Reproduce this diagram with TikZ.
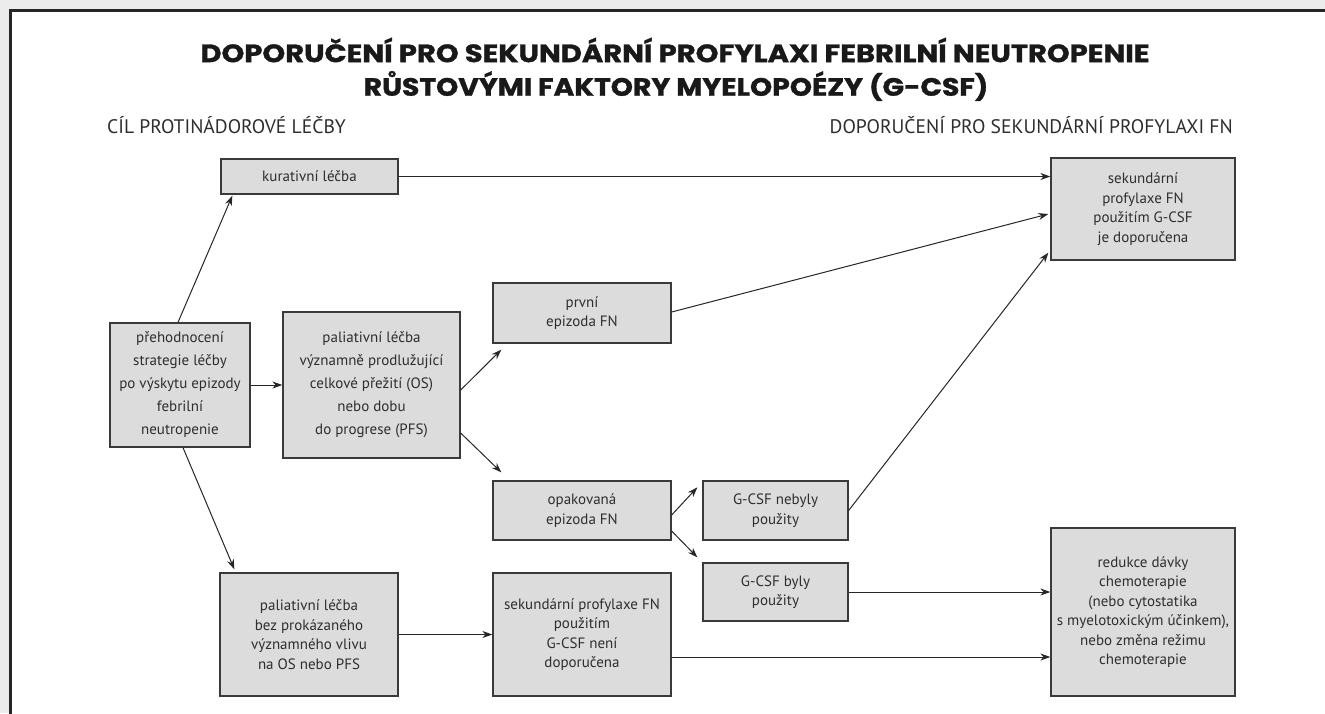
\documentclass[tikz,border=0pt]{standalone}
\usepackage{fontspec}
\setmainfont{PT Sans}
\newfontfamily\titlefont{Poppins}[BoldFeatures={FakeBold=1.2}]
\usetikzlibrary{arrows.meta,calc}
\definecolor{bgc}{HTML}{ECECEC}
\definecolor{boxfill}{HTML}{DCDCDC}
\definecolor{boxline}{HTML}{3A3A3A}
\definecolor{txt}{HTML}{2E2E2E}
\begin{document}
\begin{tikzpicture}[x=1pt,y=-1pt,
  box/.style={draw=boxline, line width=1.3pt, fill=boxfill, inner sep=0pt, align=center, text=txt, font=\fontsize{15}{19.5}\selectfont},
  widebox/.style={box, font=\fontsize{15}{23}\selectfont},
  arr/.style={line width=1pt, draw=black!85, -{Stealth[length=10pt,width=7pt]}},
  head/.style={inner sep=0pt, text=txt, font=\fontsize{19.6}{22}\selectfont},
  ttl/.style={inner sep=0pt, text=black!90, font=\titlefont\bfseries\fontsize{25}{30}\selectfont}]
\useasboundingbox (0,0) rectangle (1325,713);
\clip (0,0) rectangle (1325,713);
\fill[bgc] (0,0) rectangle (1325,713);
\draw[line width=3pt, draw=black!85, fill=white] (10.5,10.5) rectangle (1340,730);

\node[ttl] (t1) at (675,50) {\scalebox{1.16}[1]{DOPORUČENÍ PRO SEKUNDÁRNÍ PROFYLAXI FEBRILNÍ NEUTROPENIE}};
\node[ttl] (t2) at (676,86) {\scalebox{1.13}[1]{RŮSTOVÝMI FAKTORY MYELOPOÉZY (G-CSF)}};
\node[head, anchor=base west] (h1) at (107,133) {CÍL PROTINÁDOROVÉ LÉČBY};
\node[head, anchor=base east] (h2) at (1233,133) {DOPORUČENÍ PRO SEKUNDÁRNÍ PROFYLAXI FN};

\node[box, minimum width=177pt, minimum height=35pt] (kur) at (309.5,176.5) {kurativní léčba};
\node[widebox, minimum width=140pt, minimum height=124pt] (pre) at (180,385) {přehodnocení\\strategie léčby\\po výskytu epizody\\febrilní\\neutropenie};
\node[widebox, minimum width=177pt, minimum height=146pt] (pal) at (371.5,385) {paliativní léčba\\významně prodlužující\\celkové přežití (OS)\\nebo dobu\\do progrese (PFS)};
\node[box, minimum width=178pt, minimum height=60pt] (prv) at (582,313) {první\\epizoda FN};
\node[box, minimum width=178pt, minimum height=59pt] (opa) at (582,510.5) {opakovaná\\epizoda FN};
\node[box, minimum width=145pt, minimum height=59pt] (neb) at (775.5,510.5) {G-CSF nebyly\\použity};
\node[box, minimum width=145pt, minimum height=58pt] (byl) at (775.5,592) {G-CSF byly\\použity};
\node[box, minimum width=184pt, minimum height=102pt] (dop) at (1143,209) {sekundární\\profylaxe FN\\použitím G-CSF\\je doporučena};
\node[box, minimum width=184pt, minimum height=168pt] (red) at (1143,612) {redukce dávky\\chemoterapie\\(nebo cytostatika\\s myelotoxickým účinkem),\\nebo změna režimu\\chemoterapie};
\node[box, minimum width=178pt, minimum height=123pt] (bez) at (309,634.5) {paliativní léčba\\bez prokázaného\\významného vlivu\\na OS nebo PFS};
\node[box, minimum width=178pt, minimum height=123pt] (nen) at (582,634.5) {sekundární profylaxe FN\\použitím\\G-CSF není\\doporučena};

\draw[arr] ([xshift=-2pt]pre.north) -- ([xshift=12pt,yshift=-1pt]kur.south west);
\draw[arr] ([xshift=3pt]pre.south) -- ([xshift=15pt,yshift=3pt]bez.north west);
\draw[arr] (pre) -- (pal);
\draw[arr] ([yshift=-5pt]pal.east) -- ([xshift=9pt,yshift=-6pt]prv.south west);
\draw[arr] ([yshift=-48pt]pal.east) -- ([xshift=9pt,yshift=8pt]opa.north west);
\draw[arr] (kur.east) -- (kur.east -| dop.west);
\draw[arr] ([yshift=1pt]prv.east) -- ([xshift=-2pt,yshift=-5pt]dop.west);
\draw[arr] (neb.east) -- ([xshift=-2pt,yshift=8pt]dop.south west);
\draw[arr] ([yshift=-4.5pt]opa.east) -- ([xshift=-5pt,yshift=-7pt]neb.north west);
\draw[arr] ([yshift=-20.5pt]opa.east) -- ([xshift=-5pt,yshift=5pt]byl.north west);
\draw[arr] (byl.east) -- (byl.east -| red.west);
\draw[arr] ([yshift=-22.5pt]nen.east) -- ([yshift=-22.5pt]nen.east -| red.west);
\draw[arr] (bez) -- (nen);
\end{tikzpicture}
\end{document}
